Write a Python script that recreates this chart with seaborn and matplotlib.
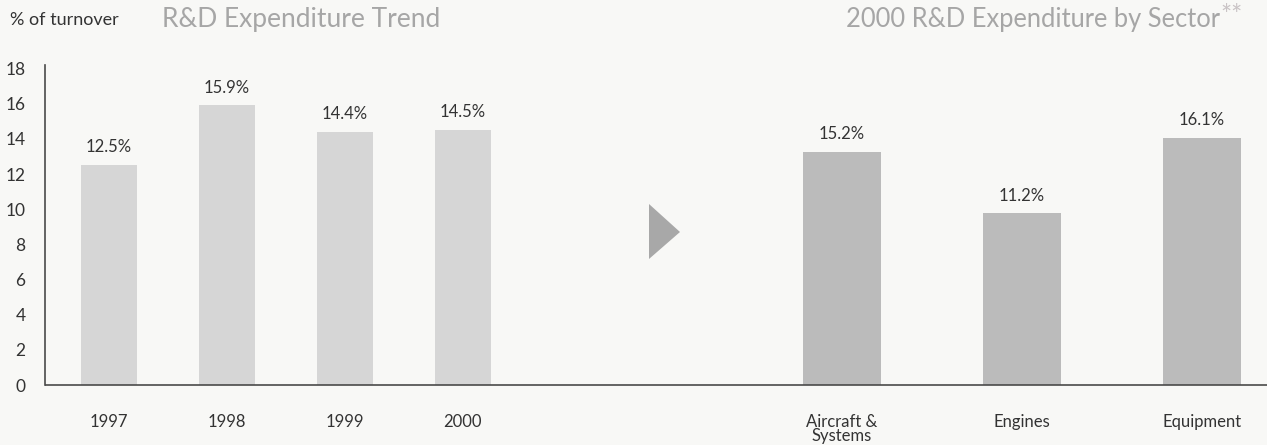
import matplotlib
matplotlib.use("Agg")
import matplotlib.pyplot as plt
import seaborn as sns
import pandas as pd
from matplotlib.patches import Polygon
from matplotlib.lines import Line2D

# ---- data ----
years = ["1997", "1998", "1999", "2000"]
trend_values = [12.5, 15.9, 14.4, 14.5]
sectors = ["Aircraft &\nSystems", "Engines", "Equipment"]
sector_values = [15.2, 11.2, 16.1]
yticks = [0, 2, 4, 6, 8, 10, 12, 14, 16, 18]

sns.set_theme(style="white")
plt.rcParams['font.family'] = ['Lato', 'DejaVu Sans']

BG = "#f8f8f6"
DARK = "#333333"
TITLE = "#a6a6a6"
LEFT_BAR = "#d6d6d6"
RIGHT_BAR = "#bbbbbb"
AXIS = "#4a4a4a"

W, H = 1267, 445
fig = plt.figure(figsize=(W / 100, H / 100), dpi=100, facecolor=BG)

def fx(px):
    return px / W

def fy(py):
    return 1 - py / H

bottom = fy(385)
top = fy(65)
split = 600

ax1 = fig.add_axes([fx(45), bottom, fx(split) - fx(45), top - bottom])
ax2 = fig.add_axes([fx(split), bottom, 1 - fx(split), top - bottom])
for ax in (ax1, ax2):
    ax.set_facecolor("none")

df1 = pd.DataFrame({"year": years, "value": trend_values})
df2 = pd.DataFrame({"sector": sectors, "value": sector_values})

sns.barplot(data=df1, x="year", y="value", ax=ax1, color=LEFT_BAR,
            width=0.475, saturation=1, edgecolor="none")
sns.barplot(data=df2, x="sector", y="value", ax=ax2, color=RIGHT_BAR,
            width=0.43, saturation=1, edgecolor="none")

ymax1 = 18.2
ax1.set_ylim(0, ymax1)
ax2.set_ylim(0, ymax1 * 1.147)
ax1.set_xlim(-0.54, (split - 109) / 118)
ax2.set_xlim((split - 842) / 180, (W - 842) / 180)

ax1.set_yticks(yticks)
ax1.set_yticklabels([str(t) for t in yticks])
ax2.set_yticks([])

for ax in (ax1, ax2):
    ax.set_xlabel("")
    ax.set_ylabel("")
    for s in ("top", "right", "bottom"):
        ax.spines[s].set_visible(False)
    ax.tick_params(axis="x", length=0, pad=21, labelsize=12, labelcolor=DARK)
    ax.tick_params(axis="y", length=0, pad=14, labelsize=12.5, labelcolor=DARK)

ax1.spines["left"].set_color(AXIS)
ax1.spines["left"].set_linewidth(1.2)
ax2.spines["left"].set_visible(False)

# continuous baseline across both panels
fig.add_artist(Line2D([fx(45), 1.0], [bottom, bottom], transform=fig.transFigure,
                      color=AXIS, linewidth=1.2, solid_capstyle="butt"))

for lbl in ax2.get_xticklabels():
    lbl.set_linespacing(0.85)

# value labels
for ax, vals in ((ax1, trend_values), (ax2, sector_values)):
    for cont in ax.containers:
        ax.bar_label(cont, labels=[f"{v:.1f}%" for v in vals], padding=7,
                     fontsize=12, color=DARK)

# titles
fig.text(fx(10), fy(20), "% of turnover", fontsize=13, color=DARK,
         ha="left", va="center")
fig.text(fx(162), fy(19), "R&D Expenditure Trend", fontsize=19, color=TITLE,
         ha="left", va="center")
fig.text(fx(1220), fy(19), "2000 R&D Expenditure by Sector", fontsize=18.4,
         color=TITLE, ha="right", va="center")
fig.text(fx(1220), fy(16), "**", fontsize=19, color="#c9c3c5",
         ha="left", va="center")

# decorative arrow
tri = Polygon([[fx(649), fy(204)], [fx(649), fy(259)], [fx(680), fy(232)]],
              closed=True, transform=fig.transFigure, facecolor="#a8a8a8",
              edgecolor="none")
fig.patches.append(tri)

fig.savefig("out.png", dpi=100, facecolor=BG)
